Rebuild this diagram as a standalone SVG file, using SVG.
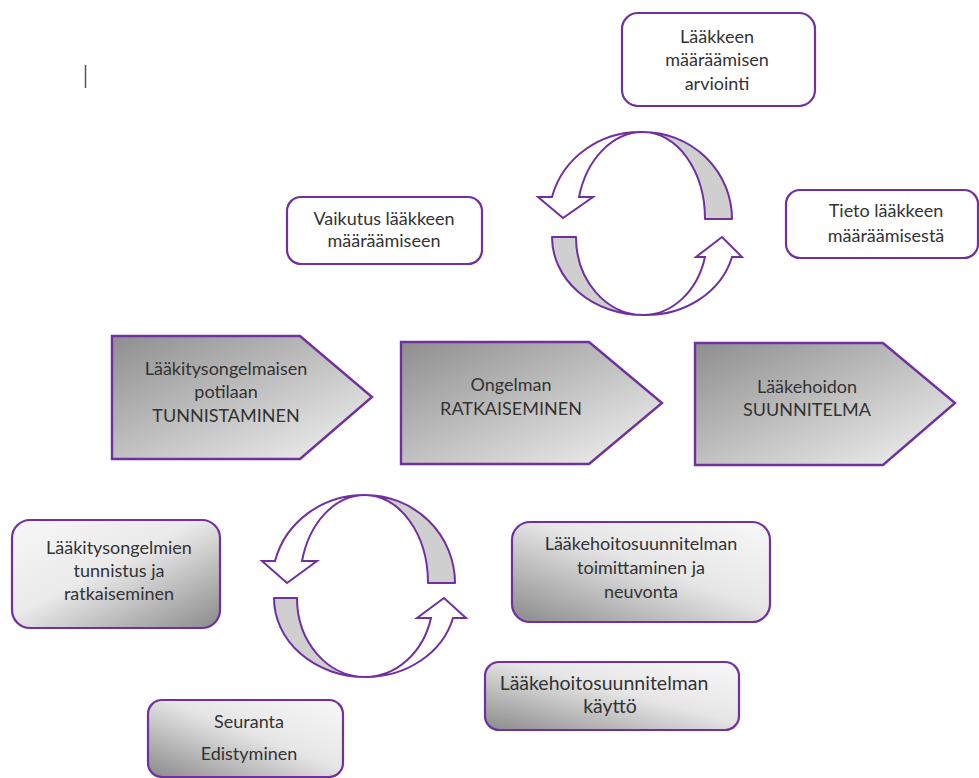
<svg xmlns="http://www.w3.org/2000/svg" width="979" height="778" viewBox="0 0 979 778">
<style>
  .box { stroke:#7030a0; stroke-width:2.2; }
  .wbox { fill:#ffffff; }
  .pent { stroke:#7030a0; stroke-width:2.4; fill:url(#gPent); }
  .band { fill:#cfcfcf; stroke:#7030a0; stroke-width:2; stroke-linejoin:round; }
  .arr { fill:#ffffff; stroke:#7030a0; stroke-width:2; stroke-linejoin:miter; }
  text { font-family:Lato, "Open Sans", "Liberation Sans", sans-serif; font-size:18px; fill:#333333; text-anchor:middle; }
  .big { font-size:19.5px; }
</style>
<defs>
  <linearGradient id="gPent" x1="0" y1="0" x2="1" y2="1">
    <stop offset="0" stop-color="#8e8e8e"/>
    <stop offset="1" stop-color="#f4f4f4"/>
  </linearGradient>
  <linearGradient id="gTLlight" x1="0" y1="0" x2="1" y2="1">
    <stop offset="0" stop-color="#f7f7f7"/>
    <stop offset="0.45" stop-color="#eaeaea"/>
    <stop offset="1" stop-color="#8a8a8a"/>
  </linearGradient>
  <linearGradient id="gBLdark" x1="0" y1="1" x2="1" y2="0">
    <stop offset="0" stop-color="#8a8a8a"/>
    <stop offset="0.55" stop-color="#e6e6e6"/>
    <stop offset="1" stop-color="#f8f8f8"/>
  </linearGradient>
</defs>

<!-- text cursor mark -->
<line x1="85.5" y1="65" x2="85.5" y2="88" stroke="#555555" stroke-width="1.5"/>

<g id="connectors">
  <!-- top cycle -->
  <path class="band" d="M643,132 A89,87 0 0 1 732,219 L705,219 A62,87 0 0 0 643,132 Z"/>
  <path class="arr" d="M643,132 A91,87 0 0 0 552,197 L538,197 L563,218 L593,197 L579,197 A66,87 0 0 1 643,132 Z"/>
  <path class="band" d="M552,237 A91,78 0 0 0 643,315 A67,78 0 0 1 576,237 Z"/>
  <path class="arr" d="M643,315 A89,78 0 0 0 732,257 L742,257 L722,237 L696,257 L705,257 A64,78 0 0 1 643,315 Z"/>
  <!-- bottom cycle -->
  <path class="band" d="M365,495 A90,88 0 0 1 455,583 L428,583 A63,88 0 0 0 365,495 Z"/>
  <path class="arr" d="M365,495 A92,88 0 0 0 275,561 L262,561 L287,583 L317,561 L302,561 A65,88 0 0 1 365,495 Z"/>
  <path class="band" d="M274,598 A91,79 0 0 0 365,677 A68,79 0 0 1 297,598 Z"/>
  <path class="arr" d="M365,677 A90,79 0 0 0 453,618 L466,618 L444,598 L417,618 L431,618 A68,79 0 0 1 365,677 Z"/>
</g>

<g id="n-arviointi">
  <rect class="box wbox" x="622" y="13" width="193" height="93" rx="16"/>
  <text x="717" y="43">Lääkkeen</text>
  <text x="717" y="66">määräämisen</text>
  <text x="717" y="90">arviointi</text>
</g>
<g id="n-tieto">
  <rect class="box wbox" x="786" y="190" width="192" height="68" rx="14"/>
  <text x="886" y="217">Tieto lääkkeen</text>
  <text x="886" y="242">määräämisestä</text>
</g>
<g id="n-vaikutus">
  <rect class="box wbox" x="287" y="197" width="195" height="67" rx="14"/>
  <text x="384" y="225">Vaikutus lääkkeen</text>
  <text x="384" y="247">määräämiseen</text>
</g>

<g id="n-tunnistaminen">
  <path class="pent" d="M112,336 L300,336 L372,397 L300,459 L112,459 Z"/>
  <text x="226" y="375">Lääkitysongelmaisen</text>
  <text x="226" y="398">potilaan</text>
  <text x="226" y="422">TUNNISTAMINEN</text>
</g>
<g id="n-ratkaiseminen">
  <path class="pent" d="M401,342 L589,342 L662,403 L589,464 L401,464 Z"/>
  <text x="511" y="391">Ongelman</text>
  <text x="511" y="415">RATKAISEMINEN</text>
</g>
<g id="n-suunnitelma">
  <path class="pent" d="M695,343 L883,343 L955,403 L883,465 L695,465 Z"/>
  <text x="807" y="393">Lääkehoidon</text>
  <text x="807" y="416">SUUNNITELMA</text>
</g>

<g id="n-tunnistus">
  <rect class="box" fill="url(#gTLlight)" x="12" y="520" width="208" height="108" rx="18"/>
  <text x="119" y="554">Lääkitysongelmien</text>
  <text x="119" y="577">tunnistus ja</text>
  <text x="119" y="600">ratkaiseminen</text>
</g>
<g id="n-toimittaminen">
  <rect class="box" fill="url(#gBLdark)" x="512" y="522" width="258" height="100" rx="18"/>
  <text x="641" y="550">Lääkehoitosuunnitelman</text>
  <text x="641" y="574">toimittaminen ja</text>
  <text x="641" y="598">neuvonta</text>
</g>
<g id="n-kaytto">
  <rect class="box" fill="url(#gBLdark)" x="485" y="662" width="254" height="68" rx="14"/>
  <text class="big" x="604" y="690">Lääkehoitosuunnitelman</text>
  <text class="big" x="610" y="713">käyttö</text>
</g>
<g id="n-seuranta">
  <rect class="box" fill="url(#gBLdark)" x="148" y="700" width="195" height="77" rx="14"/>
  <text x="249" y="728">Seuranta</text>
  <text x="249" y="760">Edistyminen</text>
</g>
</svg>
